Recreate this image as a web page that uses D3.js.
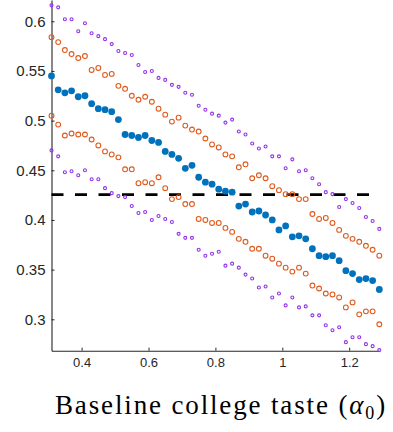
<!DOCTYPE html>
<html>
<head>
<meta charset="utf-8">
<script src="https://cdn.jsdelivr.net/npm/d3@7"></script>
<style>
  body { margin: 0; background: #fff; }
  svg { display: block; }
  .tick text { fill: #262626; font-family: "Liberation Sans", Arial, sans-serif; }
  .domain, .tick line { stroke: #262626; }
</style>
</head>
<body>
<div id="chart"></div>
<script>
// baseline college taste values (x)
var alpha = [0.31, 0.33, 0.35, 0.37, 0.39, 0.41, 0.43, 0.45, 0.47, 0.49,
             0.51, 0.53, 0.55, 0.57, 0.59, 0.61, 0.63, 0.65, 0.67, 0.69,
             0.71, 0.73, 0.75, 0.77, 0.79, 0.81, 0.83, 0.85, 0.87, 0.89,
             0.91, 0.93, 0.95, 0.97, 0.99, 1.01, 1.03, 1.05, 1.07, 1.09,
             1.11, 1.13, 1.15, 1.17, 1.19, 1.21, 1.23, 1.25, 1.27, 1.29];

// point estimate (blue)
var mid = [0.545, 0.531, 0.528, 0.530, 0.524, 0.525, 0.517, 0.512, 0.511, 0.509,
           0.501, 0.486, 0.485, 0.483, 0.485, 0.480, 0.478, 0.469, 0.466, 0.462,
           0.452, 0.455, 0.443, 0.438, 0.436, 0.431, 0.429, 0.428, 0.414, 0.416,
           0.408, 0.409, 0.405, 0.400, 0.390, 0.394, 0.383, 0.384, 0.381, 0.371,
           0.364, 0.363, 0.364, 0.359, 0.349, 0.346, 0.340, 0.341, 0.339, 0.330];

// inner band (orange)
var innerHi = [0.584, 0.579, 0.571, 0.567, 0.563, 0.565, 0.551, 0.553, 0.546, 0.547,
               0.535, 0.532, 0.525, 0.521, 0.524, 0.519, 0.512, 0.506, 0.499, 0.503,
               0.495, 0.491, 0.489, 0.482, 0.476, 0.473, 0.466, 0.464, 0.453, 0.456,
               0.442, 0.445, 0.442, 0.434, 0.430, 0.426, 0.426, 0.421, 0.421, 0.406,
               0.401, 0.402, 0.397, 0.390, 0.384, 0.381, 0.378, 0.374, 0.370, 0.364];
var innerLo = [0.505, 0.496, 0.485, 0.487, 0.486, 0.486, 0.481, 0.475, 0.469, 0.466,
               0.463, 0.451, 0.451, 0.437, 0.438, 0.437, 0.443, 0.432, 0.421, 0.423,
               0.416, 0.416, 0.401, 0.400, 0.397, 0.397, 0.392, 0.388, 0.381, 0.378,
               0.371, 0.371, 0.364, 0.361, 0.356, 0.352, 0.348, 0.352, 0.346, 0.334,
               0.331, 0.326, 0.325, 0.322, 0.312, 0.317, 0.305, 0.308, 0.308, 0.295];

// outer band (purple)
var outerHi = [0.616, 0.614, 0.602, 0.602, 0.590, 0.598, 0.588, 0.585, 0.582, 0.577,
               0.570, 0.568, 0.566, 0.556, 0.549, 0.550, 0.543, 0.541, 0.536, 0.534,
               0.528, 0.526, 0.515, 0.511, 0.507, 0.505, 0.498, 0.501, 0.489, 0.486,
               0.477, 0.472, 0.474, 0.464, 0.464, 0.452, 0.461, 0.449, 0.450, 0.442,
               0.436, 0.428, 0.426, 0.413, 0.421, 0.417, 0.412, 0.403, 0.399, 0.391];
var outerLo = [0.470, 0.464, 0.448, 0.449, 0.445, 0.450, 0.441, 0.441, 0.432, 0.427,
               0.424, 0.423, 0.414, 0.407, 0.408, 0.400, 0.404, 0.401, 0.398, 0.386,
               0.382, 0.382, 0.370, 0.364, 0.366, 0.368, 0.354, 0.356, 0.352, 0.345,
               0.341, 0.332, 0.333, 0.322, 0.326, 0.314, 0.322, 0.312, 0.313, 0.304,
               0.304, 0.294, 0.289, 0.292, 0.277, 0.282, 0.282, 0.275, 0.273, 0.269];

var threshold = 0.4255;
var xTicks = [0.4, 0.6, 0.8, 1, 1.2];
var yTicks = [0.3, 0.35, 0.4, 0.45, 0.5, 0.55, 0.6];

var W = 393, H = 432;

var svg = d3.select('#chart').append('svg')
    .attr('width', W)
    .attr('height', H);

var x = d3.scaleLinear().domain([0.31, 1.29]).range([51.5, 379.3]);
var y = d3.scaleLinear().domain([0.2684, 0.6214]).range([350.7, 0]);

// axes, matlab style inward ticks
var xAxis = svg.append('g')
    .attr('transform', 'translate(0,350.7)')
    .call(d3.axisBottom(x).tickValues(xTicks).tickFormat(d3.format('')).tickSizeInner(-3).tickSizeOuter(0).tickPadding(7));
xAxis.selectAll('text').style('font-size', '13px');

var yAxis = svg.append('g')
    .attr('transform', 'translate(51.5,0)')
    .call(d3.axisLeft(y).tickValues(yTicks).tickFormat(d3.format('')).tickSizeInner(-3).tickSizeOuter(0).tickPadding(6));
yAxis.selectAll('text').style('font-size', '15px');

svg.selectAll('.domain').attr('stroke-width', 1.1);

// dashed reference line
svg.append('line')
    .attr('x1', x(0.31))
    .attr('x2', x(1.29))
    .attr('y1', y(threshold))
    .attr('y2', y(threshold))
    .attr('stroke', '#000')
    .attr('stroke-width', 2.7)
    .attr('stroke-dasharray', '12,11.5');

function dots(vals, cls, r, fill, stroke, sw) {
    svg.append('g').attr('class', cls)
        .selectAll('circle')
        .data(vals)
        .enter().append('circle')
        .attr('cx', function (d, i) { return x(alpha[i]); })
        .attr('cy', function (d) { return y(d); })
        .attr('r', r)
        .attr('fill', fill)
        .attr('stroke', stroke)
        .attr('stroke-width', sw);
}

dots(outerHi, 'outer', 1.5, 'none', '#9333e6', 1.1);
dots(outerLo, 'outer', 1.5, 'none', '#9333e6', 1.1);
dots(innerHi, 'inner', 2.4, 'none', '#e05a1c', 1.1);
dots(innerLo, 'inner', 2.4, 'none', '#e05a1c', 1.1);
dots(mid, 'mid', 3.4, '#0072BD', 'none', 0);

// x label (latex style), stretched a little to the width of the original
var lab = svg.append('text')
    .attr('x', 55)
    .attr('y', 414)
    .style('font-family', '"Liberation Serif", "DejaVu Serif", serif')
    .style('font-size', '27px')
    .attr('fill', '#000');
lab.append('tspan').text('Baseline college taste (');
lab.append('tspan').style('font-style', 'italic').text('α');
lab.append('tspan').attr('dy', 5).style('font-size', '18px').text('0');
lab.append('tspan').attr('dy', -5).text(')');

var want = 332;
var got = lab.node().getBBox().width;
var nChars = 'Baseline college taste (α0)'.length;
if (got < want) {
    lab.style('letter-spacing', ((want - got) / nChars) + 'px');
}
</script>
</body>
</html>
